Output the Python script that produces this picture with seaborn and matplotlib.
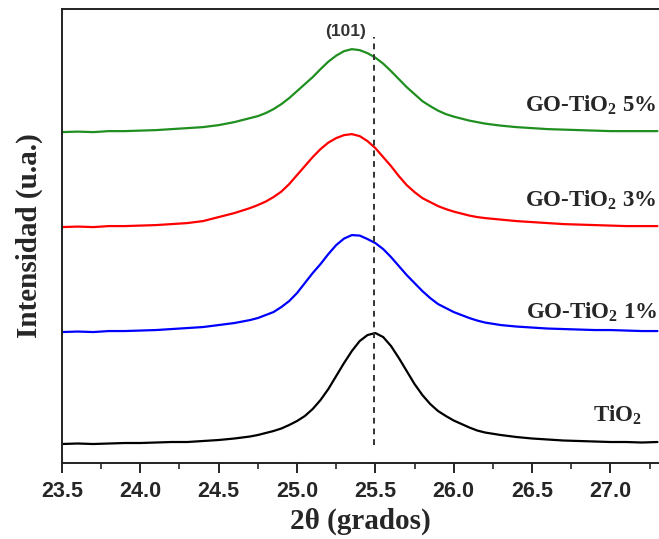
import matplotlib
matplotlib.use('Agg')
import matplotlib.pyplot as plt
import pandas as pd
import seaborn as sns

# 2-theta grid (degrees)
two_theta = [23.5, 23.6, 23.7, 23.8, 23.9, 24.0, 24.1, 24.2, 24.3, 24.4, 24.5, 24.6, 24.7,
             24.75, 24.8, 24.85, 24.9, 24.95, 25.0, 25.05, 25.1, 25.15, 25.2, 25.25, 25.3,
             25.35, 25.4, 25.45, 25.5, 25.55, 25.6, 25.65, 25.7, 25.75, 25.8, 25.85, 25.9,
             25.95, 26.0, 26.05, 26.1, 26.15, 26.2,
             26.3, 26.4, 26.5, 26.6, 26.7, 26.8, 26.9, 27.0, 27.1, 27.2, 27.3]

# intensities (a.u., already offset as in the figure)
tio2 = [19, 19.5, 19, 19.5, 20, 20, 20.5, 21, 21, 22, 23, 24.5, 26.5,
        28, 30, 32, 34.5, 38, 42, 47, 54, 63, 74, 87, 100,
        112, 122, 128, 130, 126, 117, 105, 92, 79, 68, 59, 52,
        47, 42.5, 39, 35.5, 32.5, 30.5,
        28, 26, 24.5, 23.5, 22.5, 22, 21.5, 21, 21, 20.5, 21]
go_1 = [131, 131.5, 131, 132, 132, 132.5, 133, 134, 135, 136, 138, 140, 143,
        145, 148, 151, 156, 162, 170, 180, 190, 199, 209, 218, 224.5,
        228, 227.5, 224, 220, 214, 206, 197, 188, 180, 172, 165, 159,
        155, 151, 148, 145, 142.5, 140.5,
        138, 136.5, 135.5, 134.5, 134, 133.5, 133, 133, 132.5, 132, 132]
go_3 = [236, 236.5, 236, 237, 237, 237.5, 238, 239, 240, 242, 246, 250, 255,
        258, 261.5, 266, 271.5, 279, 288, 297, 306, 314, 320.5, 325, 328,
        329, 327, 322, 315, 306, 297, 287, 278, 271, 265, 261, 257,
        254, 251.5, 249.5, 247.5, 246, 245,
        243.5, 242, 241, 240, 239, 238.5, 238, 237.5, 237, 237, 237]
go_5 = [331, 331.5, 331, 332, 332, 332.5, 333, 334, 335, 336, 338, 341, 345,
        347, 350, 354, 359, 365, 372, 379, 386, 394, 401.5, 407.5, 412,
        414, 413, 410, 405.5, 399.5, 392, 384, 376, 369, 362, 357, 352.5,
        349, 346.5, 344.5, 342.5, 341, 339.5,
        337.5, 336, 335, 334, 333.5, 333, 332.5, 332, 332, 332, 332]

series_names = ['TiO2', 'GO-TiO2 1%', 'GO-TiO2 3%', 'GO-TiO2 5%']
series_colors = ['black', '#0000ff', '#ff0000', '#1f8f1f']
labels = [r'TiO$_\mathrm{2}$', r'GO-TiO$_\mathrm{2}$ 1%', r'GO-TiO$_\mathrm{2}$ 3%',
          r'GO-TiO$_\mathrm{2}$ 5%']
label_pos = [(27.20, 48), (27.30, 151), (27.29, 263), (27.29, 358)]
peak_101 = 25.49

df = pd.DataFrame({'x': two_theta * 4,
                   'y': tio2 + go_1 + go_3 + go_5,
                   'muestra': [n for n in series_names for _ in two_theta]})

sns.set_style('ticks')
plt.rcParams['font.family'] = ['Liberation Serif', 'DejaVu Serif']
plt.rcParams['mathtext.fontset'] = 'custom'
plt.rcParams['mathtext.rm'] = 'Liberation Serif:bold'
plt.rcParams['mathtext.bf'] = 'Liberation Serif:bold'
plt.rcParams['mathtext.it'] = 'Liberation Serif:bold'

fig = plt.figure(figsize=(6.59, 5.39), dpi=100)
ax = fig.add_axes([0.094, 0.141, 0.906, 0.842])

sns.lineplot(data=df, x='x', y='y', hue='muestra', palette=series_colors,
             hue_order=series_names, linewidth=1.6, ax=ax, legend=False)

# (101) reference line
ax.plot([peak_101, peak_101], [18, 426], ls=(0, (3, 2.5)), color='#333333', lw=1.4)
ax.text(peak_101 - 0.18, 432, '(101)', ha='center', va='center', fontsize=12.5,
        fontweight='bold', color='#333333', family=['Liberation Sans', 'DejaVu Sans'])

for lab, (lx, ly) in zip(labels, label_pos):
    ax.text(lx, ly, lab, ha='right', va='center', fontsize=16.5, fontweight='bold')

ax.set_xlim(23.5, 27.31)
ax.set_ylim(0, 454)
ax.set_xticks([23.5, 24.0, 24.5, 25.0, 25.5, 26.0, 26.5, 27.0])
ax.set_xticks([23.75, 24.25, 24.75, 25.25, 25.75, 26.25, 26.75, 27.25], minor=True)
ax.set_yticks([])
for lab in ax.get_xticklabels():
    lab.set_family(['Liberation Sans', 'DejaVu Sans'])
    lab.set_fontweight('bold')
    lab.set_fontsize(15.5)
ax.tick_params(axis='x', which='major', direction='out', length=7, width=1.4, pad=6)
ax.tick_params(axis='x', which='minor', direction='out', length=4, width=1.2)

ax.set_xlabel('2θ (grados)', fontsize=21, fontweight='bold', labelpad=4)
ax.set_ylabel('Intensidad (u.a.)', fontsize=21, fontweight='bold', labelpad=14)

for side in ['left', 'bottom', 'top']:
    ax.spines[side].set_linewidth(1.4)
    ax.spines[side].set_color('#222222')
ax.spines['right'].set_visible(False)

fig.savefig('out.png', dpi=100)
